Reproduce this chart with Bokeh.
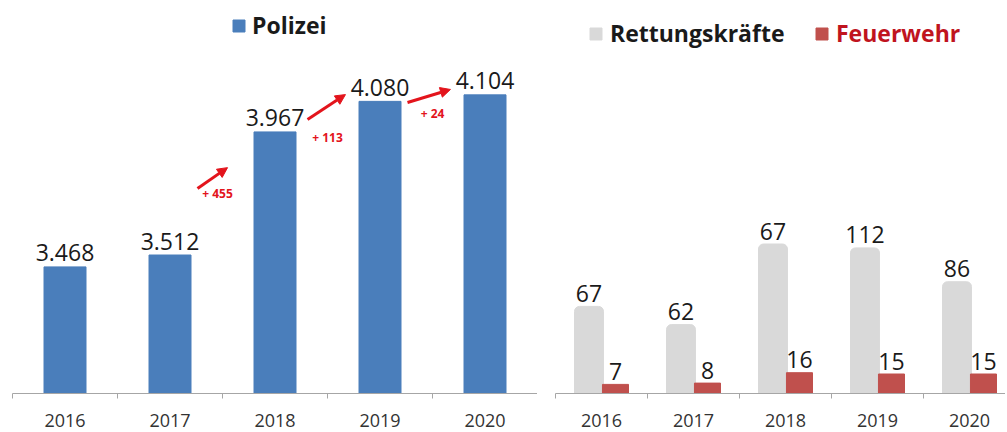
from bokeh.plotting import figure
from bokeh.layouts import row
from bokeh.models import (FixedTicker, Legend, LegendItem, Arrow, NormalHead, Label,
                          ColumnDataSource, Range1d)
from bokeh.transform import dodge
from bokeh.core.properties import value
from bokeh.embed import file_html
from bokeh.resources import INLINE

# ---------------- data ----------------
years = ["2016", "2017", "2018", "2019", "2020"]
polizei = [3468, 3512, 3967, 4080, 4104]
polizei_labels = ["3.468", "3.512", "3.967", "4.080", "4.104"]
rettung = [67, 53, 115, 112, 86]          # bar heights as drawn
rettung_labels = ["67", "62", "67", "112", "86"]   # labels as printed
feuerwehr = [7, 8, 16, 15, 15]
feuerwehr_labels = ["7", "8", "16", "15", "15"]

FONT = "Open Sans"
BLUE = "#4a7ebb"
GRAY = "#d9d9d9"
RED = "#c0504d"
ARROW_RED = "#e3141c"
AXIS = "#a6a6a6"
TXT = "#1a1a1a"

xs = list(range(len(years)))
FH = 383
TOP = 10
BOTTOM = 38
LEFT_PX = 0.2705   # px per unit
RIGHT_PX = 1.30
LEFT_BASE = 3000

def style_xaxis(p):
    ax = p.xaxis[0]
    ax.ticker = FixedTicker(ticks=xs, minor_ticks=[i - 0.5 for i in xs] + [xs[-1] + 0.5])
    ax.major_label_overrides = {i: y for i, y in zip(xs, years)}
    ax.major_tick_out = 0
    ax.major_tick_in = 0
    ax.minor_tick_out = 5
    ax.minor_tick_in = 0
    ax.axis_line_color = AXIS
    ax.minor_tick_line_color = AXIS
    ax.major_label_text_font = FONT
    ax.major_label_text_font_size = "18px"
    ax.major_label_text_color = "#333333"
    ax.major_label_standoff = 15
    p.xgrid.visible = False
    p.ygrid.visible = False
    p.outline_line_color = None

# ---------------- left: Polizei ----------------
p1 = figure(frame_width=525, frame_height=FH,
            x_range=Range1d(-0.5, 4.5),
            y_range=Range1d(LEFT_BASE, LEFT_BASE + FH / LEFT_PX),
            y_axis_location=None, output_backend="svg", toolbar_location=None,
            min_border_left=12, min_border_right=0, min_border_top=TOP,
            min_border_bottom=BOTTOM)
style_xaxis(p1)

src1 = ColumnDataSource(dict(x=xs, top=polizei, label=polizei_labels))
r_pol = p1.vbar(x="x", top="top", bottom=LEFT_BASE, width=0.4, color=BLUE, source=src1)
p1.text(x="x", y="top", text="label", source=src1, text_align="center",
        text_baseline="alphabetic", y_offset=-14, text_font=value(FONT),
        text_font_size="23px", text_color=TXT)

# growth arrows with difference labels
arrows = [  # (x0, y0, x1, y1, label x, label y) between successive years
    (1.262, 3758, 1.548, 3835, 1.452, 3739),
    (2.310, 4013, 2.671, 4105, 2.500, 3946),
    (3.262, 4076, 3.671, 4124, 3.500, 4035),
]
for k, (x0, y0, x1, y1, lx, ly) in enumerate(arrows):
    diff = polizei[k + 2] - polizei[k + 1]
    p1.add_layout(Arrow(x_start=x0, y_start=y0, x_end=x1, y_end=y1,
                        line_color=ARROW_RED, line_width=3,
                        end=NormalHead(size=10, fill_color=ARROW_RED, line_color=ARROW_RED)))
    p1.add_layout(Label(x=lx, y=ly, text=f"+ {diff}", text_align="center",
                        text_baseline="middle", text_font=FONT, text_font_size="12px",
                        text_font_style="bold", text_color=ARROW_RED))

leg1 = Legend(items=[LegendItem(label="Polizei", renderers=[r_pol])],
              location=(219, 352), padding=0, margin=0, border_line_alpha=0,
              background_fill_alpha=0, glyph_width=15, glyph_height=15,
              label_standoff=6, label_text_font=FONT, label_text_font_size="23px",
              label_text_font_style="bold", label_text_color=TXT)
p1.add_layout(leg1)

# ---------------- right: Rettungskräfte / Feuerwehr ----------------
CAT = 92
FW2 = 450
p2 = figure(frame_width=FW2, frame_height=FH,
            x_range=Range1d(-0.5, -0.5 + FW2 / CAT),
            y_range=Range1d(0, FH / RIGHT_PX),
            y_axis_location=None, output_backend="svg", toolbar_location=None,
            min_border_left=18, min_border_right=0, min_border_top=TOP,
            min_border_bottom=BOTTOM)
style_xaxis(p2)

src2 = ColumnDataSource(dict(x=xs, r=rettung, rl=rettung_labels, f=feuerwehr, fl=feuerwehr_labels))
r_ret = p2.vbar(x=dodge("x", -0.136, range=p2.x_range), top="r", width=0.315,
                color=GRAY, border_radius=(5, 5, 0, 0), source=src2)
r_feu = p2.vbar(x=dodge("x", 0.152, range=p2.x_range), top="f", width=0.283,
                color=RED, source=src2)
p2.text(x=dodge("x", -0.136, range=p2.x_range), y="r", text="rl", source=src2,
        text_align="center", text_baseline="alphabetic", y_offset=-13,
        text_font=value(FONT), text_font_size="23px", text_color=TXT)
p2.text(x=dodge("x", 0.152, range=p2.x_range), y="f", text="fl", source=src2,
        text_align="center", text_baseline="alphabetic", y_offset=-13,
        text_font=value(FONT), text_font_size="23px", text_color=TXT)

common = dict(padding=0, margin=0, border_line_alpha=0, background_fill_alpha=0,
              glyph_width=15, glyph_height=15, label_standoff=7, label_text_font=FONT,
              label_text_font_size="23px", label_text_font_style="bold")
leg2 = Legend(items=[LegendItem(label="Rettungskräfte", renderers=[r_ret])],
              location=(33, 344), label_text_color=TXT, **common)
leg3 = Legend(items=[LegendItem(label="Feuerwehr", renderers=[r_feu])],
              location=(259, 344), label_text_color="#c0141e", **common)
p2.add_layout(leg2)
p2.add_layout(leg3)

layout = row(p1, p2)
open("out.html", "w").write(file_html(layout, INLINE))
